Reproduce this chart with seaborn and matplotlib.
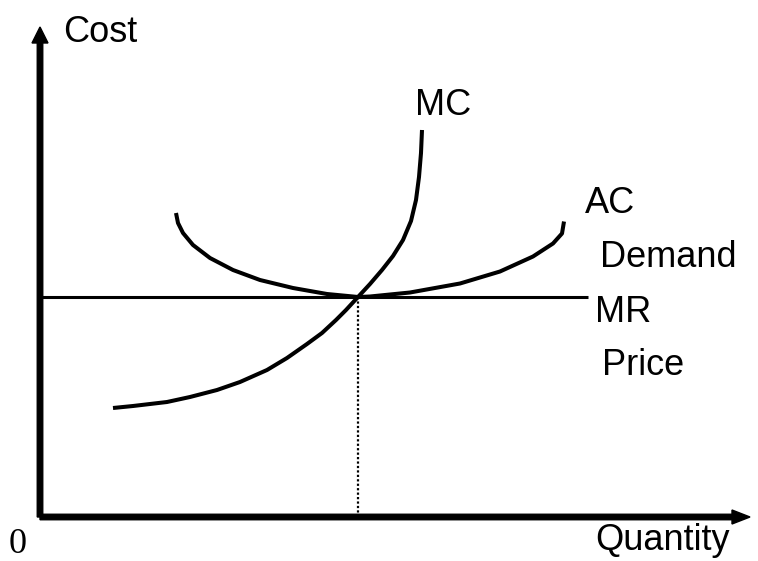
# Perfect competition: MC / AC / MR diagram
import matplotlib
matplotlib.use("Agg")
import matplotlib.pyplot as plt
import pandas as pd
import seaborn as sns

# curve points (quantity, cost)
mc_q = [1.46, 1.86, 2.54, 3.00, 3.54, 4.00, 4.54, 4.94, 5.34, 5.64, 5.92,
        6.12, 6.36, 6.60, 6.84, 7.06, 7.26, 7.42, 7.52, 7.58, 7.62, 7.64]
mc_c = [2.18, 2.22, 2.30, 2.40, 2.54, 2.70, 2.94, 3.18, 3.46, 3.68, 3.94,
        4.14, 4.40, 4.66, 4.94, 5.22, 5.54, 5.92, 6.34, 6.80, 7.28, 7.74]

ac_q = [2.72, 2.76, 2.86, 3.06, 3.40, 3.86, 4.40, 5.06, 5.74, 6.26, 6.36,
        6.60, 7.40, 8.40, 9.20, 9.86, 10.26, 10.44, 10.48]
ac_c = [6.08, 5.88, 5.68, 5.44, 5.18, 4.94, 4.74, 4.58, 4.46, 4.41, 4.40,
        4.41, 4.49, 4.67, 4.91, 5.21, 5.47, 5.67, 5.91]

mr_q = [0.0, 10.96]
mr_c = [4.40, 4.40]

q_star = 6.36
p_star = 4.40

x_tip = 14.2
y_tip = 9.8

sns.set_style("white")
plt.rcParams['font.family'] = ['Liberation Sans', 'DejaVu Sans']
plt.rcParams['lines.solid_capstyle'] = 'butt'
plt.rcParams['lines.solid_joinstyle'] = 'round'

fig = plt.figure(figsize=(7.58, 5.61), dpi=100)
ax = fig.add_axes([0, 0, 1, 1])

mc = pd.DataFrame({"q": mc_q, "c": mc_c})
ac = pd.DataFrame({"q": ac_q, "c": ac_c})
mr = pd.DataFrame({"q": mr_q, "c": mr_c})

sns.lineplot(data=mc, x="q", y="c", sort=False, color="black", lw=2.9, ax=ax)
sns.lineplot(data=ac, x="q", y="c", sort=False, color="black", lw=2.9, ax=ax)
sns.lineplot(data=mr, x="q", y="c", sort=False, color="black", lw=2.2, ax=ax)

# dotted drop line to the quantity axis
ax.plot([q_star, q_star], [0, p_star], color="black", lw=1.6, ls=(0, (1, 1)))

# axes with arrow heads
ax.arrow(0, 0, x_tip, 0, width=0.11, head_width=0.28, head_length=0.36,
         length_includes_head=True, color="black")
ax.arrow(0, 0, 0, y_tip, width=0.11, head_width=0.32, head_length=0.32,
         length_includes_head=True, color="black")

fs = 26
kw = dict(fontsize=fs, va="baseline", color="black")
ax.text(0.46, 9.5, "Cost", **kw)
ax.text(7.5, 8.04, "MC", **kw)
ax.text(10.9, 6.08, "AC", **kw)
ax.text(11.2, 5.0, "Demand", **kw)
ax.text(11.1, 3.9, "MR", **kw)
ax.text(11.24, 2.84, "Price", **kw)
ax.text(11.1, -0.66, "Quantity", **kw)
ax.text(-0.62, -0.72, "0", fontsize=26, va="baseline", color="black",
        family="Liberation Serif")

ax.set_xlim(-0.8, 14.36)
ax.set_ylim(-0.88, 10.34)
ax.set_axis_off()

fig.savefig("out.png", dpi=100)
